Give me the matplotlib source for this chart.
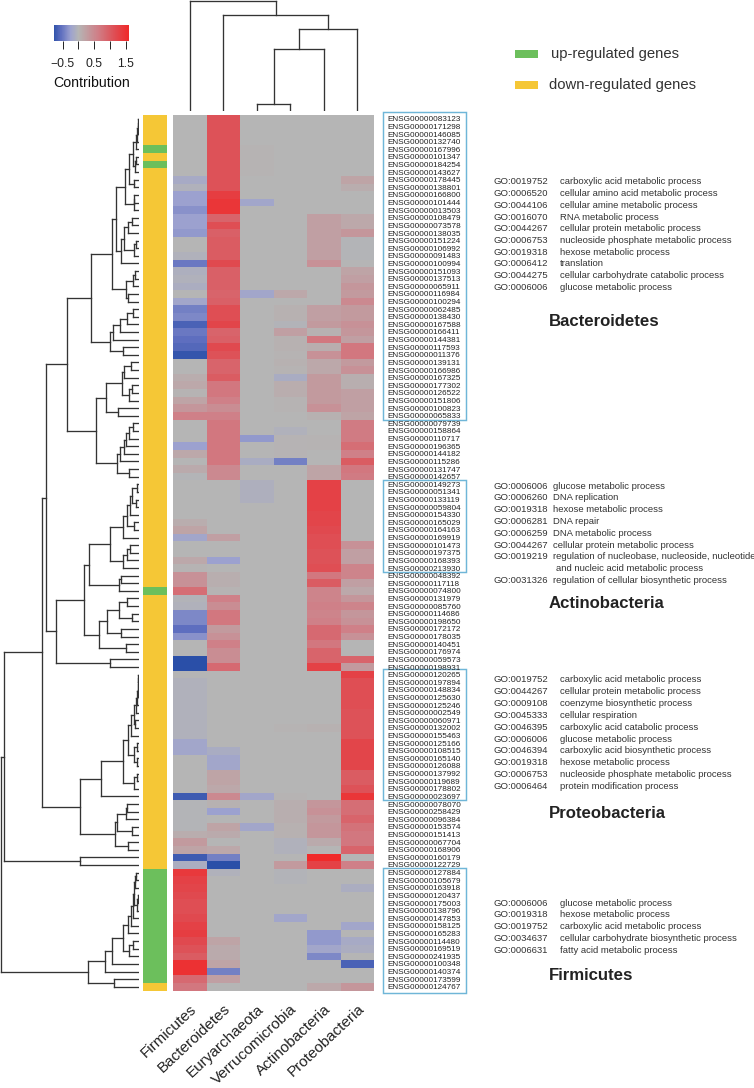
import matplotlib
matplotlib.use("Agg")
import matplotlib.pyplot as plt
import numpy as np
from matplotlib.colors import LinearSegmentedColormap, Normalize, ListedColormap
from matplotlib.cm import ScalarMappable
from matplotlib.collections import LineCollection
from matplotlib.patches import Rectangle

plt.rcParams['font.family'] = ['Liberation Sans', 'DejaVu Sans']

# ---------- data ----------
phyla = ["Firmicutes", "Bacteroidetes", "Euryarchaeota", "Verrucomicrobia", "Actinobacteria", "Proteobacteria"]

genes = """083123 171298 146085 132740 167996 101347 184254 143627 178445 138801
166800 101444 013503 108479 073578 138035 151224 106992 091483 100994
151093 137513 065911 116984 100294 062485 138430 167588 166411 144381
117593 011376 139131 166986 167325 177302 126522 151806 100823 065833
079739 158864 110717 196365 144182 115286 131747 142657 149273 051341
133119 059804 154330 165029 164163 169919 101473 197375 168393 213930
048392 117118 074800 131979 085760 114686 198650 172172 178035 140451
176974 059573 198931 120265 197894 148834 125630 125246 002549 060971
132002 155463 125166 108515 165140 126088 137992 119689 178802 023697
078070 258429 096384 153574 151413 067704 168906 160179 122729 127884
105679 163918 120437 175003 138796 147853 158125 165283 114480 169519
241935 100348 140374 173599 124767""".split()
gene_labels = ["ENSG00000" + g for g in genes]

firmicutes = [0, 0, 0, 0, 0, 0, 0, 0, -.15, -.05,
              -.25, -.25, -.35, -.25, -.25, -.3, 0, 0, -.05, -.5,
              -.08, -.05, -.1, 0, -.2, -.45, -.4, -.65, -.5, -.55,
              -.6, -.75, 0, 0, .1, .15, .03, .2, .35, .6,
              0, 0, 0, -.25, .15, 0, .12, -.02, 0, 0,
              0, 0, 0, .1, .2, -.2, 0, 0, .15, .03,
              .4, .4, .8, -.03, -.05, -.4, -.4, -.55, -.35, 0,
              0, -.8, -.8, 0, -.05, -.05, -.05, -.05, -.05, -.05,
              -.05, -.05, -.2, -.2, 0, 0, 0, 0, 0, -.7,
              -.02, -.02, -.02, -.02, .1, .3, .2, -.7, -.1, 1.4,
              1.3, 1.25, 1.2, 1.15, 1.15, 1.2, 1.3, 1.35, 1.2, 1.1,
              1.0, 1.5, 1.5, .85, .7]
bacteroidetes = [1.1, 1.1, 1.1, 1.1, 1.1, 1.1, 1.1, 1.1, 1.1, 1.1,
                 1.35, 1.45, 1.45, .9, 1.15, .95, 1.0, 1.0, 1.0, 1.2,
                 .95, .95, .95, .9, .95, 1.15, 1.15, 1.25, .9, .95,
                 1.2, 1.1, .9, .9, 1.0, .7, .7, .6, .45, .6,
                 .7, .7, .7, .7, .7, .7, .5, .5, 0, 0,
                 0, 0, 0, 0, 0, .25, 0, 0, -.25, 0,
                 .08, .08, .03, .6, .45, .7, .7, .3, .4, .6,
                 .45, .45, .85, 0, 0, 0, 0, 0, 0, 0,
                 0, 0, 0, -.12, -.2, -.2, .2, .2, .15, .5,
                 .05, -.25, 0, .2, .12, 0, .15, -.45, -.85, -.05,
                 0, 0, 0, 0, 0, 0, 0, 0, .2, .12,
                 .12, .2, -.45, .25, 0]
euryarchaeota = [0, 0, 0, 0, .03, .03, .03, .03, 0, 0,
                 0, -.2, 0, 0, 0, 0, 0, 0, 0, 0,
                 0, 0, 0, -.2, 0, 0, 0, 0, 0, 0,
                 0, 0, 0, 0, 0, 0, 0, 0, 0, 0,
                 0, 0, -.3, 0, 0, -.12, 0, 0, -.07, -.07,
                 -.07, 0, 0, 0, 0, 0, 0, 0, 0, 0,
                 0, 0, 0, 0, 0, 0, 0, 0, 0, 0,
                 0, 0, 0, 0, 0, 0, 0, 0, 0, 0,
                 0, 0, 0, 0, 0, 0, 0, 0, 0, -.2,
                 0, 0, 0, -.2, 0, 0, 0, 0, 0, 0,
                 0, 0, 0, 0, 0, 0, 0, 0, 0, 0,
                 0, 0, 0, 0, 0]
verrucomicrobia = [0, 0, 0, 0, 0, 0, 0, 0, 0, 0,
                   0, 0, 0, 0, 0, 0, 0, 0, 0, 0,
                   0, 0, 0, .15, 0, .05, .05, -.03, .25, .05,
                   .05, .03, .05, .03, -.12, .1, .1, .03, .03, 0,
                   0, -.05, .02, .02, .02, -.45, 0, 0, 0, 0,
                   0, 0, 0, 0, 0, 0, 0, 0, 0, 0,
                   0, 0, 0, 0, 0, 0, 0, 0, 0, 0,
                   0, 0, 0, 0, 0, 0, 0, 0, 0, 0,
                   .03, 0, 0, 0, 0, 0, 0, 0, 0, .03,
                   .08, .08, .08, .05, .05, -.05, -.05, 0, .3, -.03,
                   -.03, 0, 0, 0, 0, -.2, 0, 0, 0, 0,
                   0, 0, 0, 0, 0]
actinobacteria = [0, 0, 0, 0, 0, 0, 0, 0, 0, 0,
                  0, 0, 0, .25, .25, .25, .25, .25, .25, .4,
                  0, 0, 0, 0, 0, .25, .25, .3, .05, .7,
                  .1, .4, .15, .15, .3, .3, .3, .3, .4, .05,
                  0, 0, .03, .03, 0, 0, .2, .2, 1.3, 1.3,
                  1.3, 1.3, 1.25, 1.25, 1.2, 1.15, 1.15, 1.1, 1.1, 1.15,
                  .7, 1.0, .55, .55, .6, .55, .6, .85, .85, .7,
                  .9, .9, 1.3, 0, 0, 0, 0, 0, 0, 0,
                  .05, 0, 0, 0, 0, 0, 0, 0, 0, 0,
                  .35, .4, .3, .35, .35, .12, 0, 1.6, 1.3, 0,
                  0, 0, 0, 0, 0, 0, 0, -.3, -.3, -.2,
                  -.4, 0, 0, 0, .15]
proteobacteria = [0, 0, 0, 0, 0, 0, 0, 0, .2, .1,
                  0, 0, 0, .15, .15, .35, -.02, -.02, -.02, 0,
                  .2, .25, .35, .3, .5, .3, .3, .4, .35, .25,
                  .7, .7, .3, .4, .08, .08, .25, .25, .25, .2,
                  .65, .65, .65, .8, .6, 1.0, .7, .65, 0, 0,
                  0, 0, 0, 0, 0, 0, .4, .25, .25, .55,
                  .55, .25, .15, .35, .55, .35, .4, .6, .4, 0,
                  0, .9, .3, 1.3, 1.15, 1.15, 1.15, 1.15, 1.1, 1.1,
                  1.1, 1.1, 1.25, 1.25, 1.25, 1.25, 1.0, 1.0, 1.1, 1.45,
                  .8, .8, .9, .75, .7, .7, .9, 0, .6, 0,
                  0, -.1, 0, 0, 0, 0, -.2, 0, -.15, -.1,
                  0, -.65, 0, 0, .35]

up_regulated_rows = [4, 6, 62, 99, 100, 101, 102, 103, 104, 105, 106, 107, 108, 109, 110, 111, 112, 113]

# row dendrogram: (merge distance, left, right)
a = (6, (3, (2, 0, 1), 2), 3)
b = (9, a, 4)
c = (10, (8, 5, 6), 7)
f = (28, (16, b, c), (14, 8, 9))
h1 = (41, f, (14, (13, 10, 11), 12))
k = (43, (31, (19, 13, 14), 15), (13, (7, 16, 17), 18))
m = (69, h1, (52, k, 19))
n = (37, (18, (11, 20, 21), 22), (31, 23, 24))
r = (87, (78, (56, (36, (18, 25, 26), 27), 28), 29), (46, 30, 31))
s = (144, (81, m, n), r)
w = (51, (44, (23, 32, 33), 34), (29, (19, 35, 36), 37))
wx = (98, w, (61, 38, 39))
y1 = (64, (56, (44, (38, (28, (16, 40, 41), 42), 43), 44), 45), (28, 46, 47))
node1 = (214, s, (129, wx, y1))
aa = (19, (6, 48, 49), (8, 50, 51))
ab = (35, (26, aa, 52), (13, 53, 54))
af = (46, ab, 55)
ag = (48, (36, (26, 56, 57), 58), 59)
aj = (148, (87, af, ag), (59, (52, 60, 61), 62))
ak = (118, (94, (58, (36, 63, 64), (21, 65, 66)), (54, 67, 68)), (38, 69, 70))
node2 = (248, (164, aj, ak), (86, 71, 72))
n139 = (277, node1, node2)
ch = (8, (6, (3, (2, (1, 73, 74), 75), 76), 77), 78)
bq = (22, (14, ch, (11, 79, 80)), 81)
bl = (112, (46, (31, bq, (14, (6, 82, 83), (6, 84, 85))), (14, (6, 86, 87), 88)), 89)
br = (71, (64, (37, (34, 90, 91), 92), (19, 93, 94)), (33, 95, 96))
n125 = (291, n139, (175, bl, br))
n13 = (403, n125, (175, 97, 98))
da = (33, (24, (18, (15, (12, (8, 99, 100), 101), (4, (3, 102, 103), 104)), 105), 106), 107)
db = (28, (16, 108, 109), 110)
dd = (153, (100, (80, (48, da, db), 111), 112), (73, 113, 114))
row_tree = (413, n13, dd)
col_tree = (110.5, 0, (96.3, 1, (81.7, (62, (7, 2, 3), 4), 5)))

go_blocks = [
    ([182, 193.7, 205.4, 217.1, 228.8, 240.5, 252.2, 263.9, 275.6, 287.3], 560,
     ["GO:0019752", "GO:0006520", "GO:0044106", "GO:0016070", "GO:0044267", "GO:0006753", "GO:0019318", "GO:0006412", "GO:0044275", "GO:0006006"],
     ["carboxylic acid metabolic process", "cellular amino acid metabolic process", "cellular amine metabolic process",
      "RNA metabolic process", "cellular protein metabolic process", "nucleoside phosphate metabolic process",
      "hexose metabolic process", "translation", "cellular carbohydrate catabolic process", "glucose metabolic process"],
     "Bacteroidetes", 322),
    ([486, 497.7, 509.7, 521.7, 533.3, 545, 556.7, 580.3], 552.7,
     ["GO:0006006", "GO:0006260", "GO:0019318", "GO:0006281", "GO:0006259", "GO:0044267", "GO:0019219", "GO:0031326"],
     ["glucose metabolic process", "DNA replication", "hexose metabolic process", "DNA repair", "DNA metabolic process",
      "cellular protein metabolic process", "regulation of nucleobase, nucleoside, nucleotide",
      "regulation of cellular biosynthetic process"],
     "Actinobacteria", 603.3),
    ([680, 691.8, 703.6, 715.4, 727.2, 739, 750.8, 762.6, 774.4, 786.2], 560,
     ["GO:0019752", "GO:0044267", "GO:0009108", "GO:0045333", "GO:0046395", "GO:0006006", "GO:0046394", "GO:0019318", "GO:0006753", "GO:0006464"],
     ["carboxylic acid metabolic process", "cellular protein metabolic process", "coenzyme biosynthetic process",
      "cellular respiration", "carboxylic acid catabolic process", "glucose metabolic process",
      "carboxylic acid biosynthetic process", "hexose metabolic process", "nucleoside phosphate metabolic process",
      "protein modification process"],
     "Proteobacteria", 813),
    ([903, 914.8, 926.6, 938.4, 950.2], 560,
     ["GO:0006006", "GO:0019318", "GO:0019752", "GO:0034637", "GO:0006631"],
     ["glucose metabolic process", "hexose metabolic process", "carboxylic acid metabolic process",
      "cellular carbohydrate biosynthetic process", "fatty acid metabolic process"],
     "Firmicutes", 976),
]

# ---------- layout helpers ----------
W, H = 754, 1088
fig = plt.figure(figsize=(W / 100, H / 100), dpi=100, facecolor="white")


def px_axes(x0, y0, x1, y1):
    return fig.add_axes([x0 / W, 1 - y1 / H, (x1 - x0) / W, (y1 - y0) / H])


def ftext(x, y, s, **kw):
    kw.setdefault("va", "center")
    kw.setdefault("color", "#2b2b2b")
    return fig.text(x / W, 1 - y / H, s, **kw)


def tree_segments(node, leaf_pos, out):
    if not isinstance(node, tuple):
        return leaf_pos(node), 0.0
    d, left, right = node
    p1, d1 = tree_segments(left, leaf_pos, out)
    p2, d2 = tree_segments(right, leaf_pos, out)
    out.append(((p1, d1), (p1, d)))
    out.append(((p2, d2), (p2, d)))
    out.append(((p1, d), (p2, d)))
    return (p1 + p2) / 2, d


cmap = LinearSegmentedColormap.from_list("contrib", [
    (0.0, "#2a4fa8"),
    ((-0.55 + 0.8) / 2.4, "#5f6fbf"),
    ((-0.25 + 0.8) / 2.4, "#9da2cf"),
    (0.8 / 2.4, "#b5b5b5"),
    ((0.6 + 0.8) / 2.4, "#cf8088"),
    ((1.2 + 0.8) / 2.4, "#e0494f"),
    (1.0, "#f02a2a"),
])
norm = Normalize(-0.8, 1.6)

HX0, HX1, HY0, HY1 = 173.3, 374.0, 115.0, 990.6
n_rows = len(gene_labels)

# ---------- heatmap ----------
values = np.array([firmicutes, bacteroidetes, euryarchaeota, verrucomicrobia, actinobacteria, proteobacteria]).T
ax = px_axes(HX0, HY0, HX1, HY1)
ax.pcolormesh(np.arange(7), np.arange(n_rows + 1), values, cmap=cmap, norm=norm, rasterized=True)
ax.set_xlim(0, 6)
ax.set_ylim(n_rows, 0)
for sp in ax.spines.values():
    sp.set_visible(False)
ax.yaxis.tick_right()
ax.set_yticks(np.arange(n_rows) + 0.5)
ax.set_yticklabels(gene_labels, fontsize=5.9, color="#222222")
ax.tick_params(axis="y", length=0, pad=9.9)
ax.set_xticks(np.arange(6) + 0.5)
ax.set_xticklabels(phyla, rotation=43, ha="right", va="top", rotation_mode="anchor", fontsize=11, color="#222222")
ax.tick_params(axis="x", length=0, pad=8)

# ---------- blue boxes around gene groups ----------
box_rows = [(-0.43, 40.05), (47.94, 60.06), (72.8, 90.0), (98.9, 115.27)]
cw = (HX1 - HX0) / 6
bx0 = (382.7 - HX0) / cw
bx1 = (465.7 - HX0) / cw
for top, bottom in box_rows:
    ax.add_patch(Rectangle((bx0, top), bx1 - bx0, bottom - top, fill=False, ec="#6fb6d8", lw=1.05, clip_on=False))

# ---------- side colour bar ----------
status = np.zeros((n_rows, 1))
status[up_regulated_rows, 0] = 1
side_cmap = ListedColormap(["#f5c736", "#6cbf5c"])
ax_side = px_axes(143.4, HY0, 166.8, HY1)
ax_side.pcolormesh(np.arange(2), np.arange(n_rows + 1), status, cmap=side_cmap, vmin=0, vmax=1, rasterized=True)
ax_side.set_ylim(n_rows, 0)
ax_side.axis("off")

# ---------- row dendrogram ----------
ax_rd = px_axes(0, HY0, 138.67, HY1)
seg = []
tree_segments(row_tree, lambda i: i + 0.5, seg)
seg = [[(p[1], p[0]) for p in s_] for s_ in seg]
ax_rd.add_collection(LineCollection(seg, colors="#333333", linewidths=0.95, capstyle="projecting"))
ax_rd.set_xlim(416, 0)
ax_rd.set_ylim(n_rows, 0)
ax_rd.axis("off")

# ---------- column dendrogram ----------
ax_cd = px_axes(HX0, 0, HX1, 111)
seg = []
tree_segments(col_tree, lambda i: i + 0.5, seg)
ax_cd.add_collection(LineCollection(seg, colors="#333333", linewidths=0.95, capstyle="projecting"))
ax_cd.set_xlim(0, 6)
ax_cd.set_ylim(0, 111)
ax_cd.axis("off")

# ---------- colour key ----------
cax = px_axes(54, 25, 129, 40.7)
cbar = fig.colorbar(ScalarMappable(Normalize(-0.77, 1.6), LinearSegmentedColormap.from_list("k", cmap(np.linspace(0.0125, 1, 256)))),
                    cax=cax, orientation="horizontal")
cbar.outline.set_visible(False)
cbar.set_ticks([-0.5, 0, 0.5, 1.0, 1.5])
cbar.set_ticklabels(["\u22120.5", "", "0.5", "", "1.5"])
cax.tick_params(axis="x", length=5.8, width=0.7, pad=6.5, labelsize=8.8, color="#222222", labelcolor="#222222")
ftext(91.5, 83, "Contribution", ha="center", fontsize=10.2, color="#111111")

# ---------- legend ----------
for y0, col, lx, label in [(50, "#6cbf5c", 551, "up-regulated genes"), (81, "#f5c736", 549, "down-regulated genes")]:
    fig.add_artist(Rectangle((515 / W, 1 - (y0 + 7.7) / H), 22.7 / W, 7.7 / H, transform=fig.transFigure, fc=col, ec="none"))
    ftext(lx, y0 + 4.3, label, fontsize=10.7, ha="left", color="#333333")

# ---------- GO annotations ----------
for ys, dx, ids, terms, title, ty in go_blocks:
    for y, gid, term in zip(ys, ids, terms):
        ftext(494, y, gid, fontsize=6.8, ha="left", color="#333333")
        ftext(dx, y, term, fontsize=6.8, ha="left", color="#333333")
    ftext(548.5, ty, title, fontsize=12.1, ha="left", fontweight="bold", color="#222222")
ftext(555.7, 568.7, "and nucleic acid metabolic process", fontsize=6.8, ha="left", color="#333333")

fig.savefig("out.png", dpi=100, facecolor="white")
